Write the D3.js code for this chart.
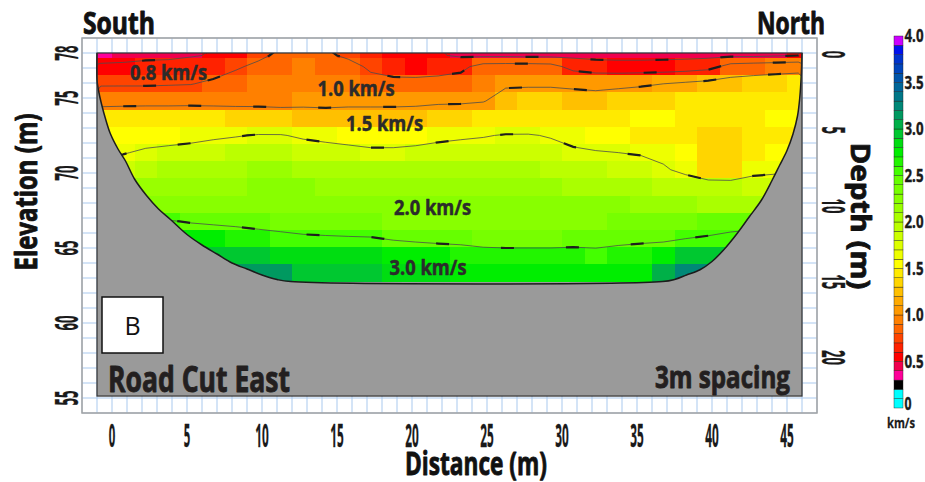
<!DOCTYPE html>
<html>
<head>
<meta charset="utf-8">
<script src="https://cdn.jsdelivr.net/npm/d3@7"></script>
<style>
  html, body { margin: 0; padding: 0; background: #ffffff; }
  svg { display: block; }
</style>
</head>
<body>
<svg id="chart" width="925" height="482"></svg>
<script>
// ---------------------------------------------------------------
// Seismic refraction tomogram, Road Cut East (profile B)
// Velocity model in km/s: 32 columns of 1.5 m, 14 layers (top -> bottom)
// ---------------------------------------------------------------
const layer00 = [0.38,0.40,0.42,0.44,0.48,0.52,0.58,0.70,0.80,0.82,0.80,0.70,0.62,0.58,0.55,0.52,0.47,0.46,0.46,0.45,0.45,0.45,0.44,0.44,0.44,0.45,0.45,0.45,0.46,0.46,0.48,0.50];
const layer01 = [0.55,0.56,0.60,0.60,0.62,0.62,0.72,0.80,0.88,0.90,0.88,0.85,0.70,0.60,0.58,0.62,0.68,0.85,0.86,0.86,0.84,0.66,0.60,0.58,0.58,0.58,0.60,0.65,0.85,0.88,0.90,0.92];
const layer02 = [0.72,0.72,0.72,0.73,0.74,0.80,0.86,0.90,0.92,0.94,0.94,0.90,0.85,0.85,0.85,0.86,0.88,0.95,1.05,1.05,1.05,1.02,1.00,1.02,1.05,1.10,1.15,1.20,1.25,1.30,1.35,1.40];
const layer03 = [0.95,0.96,0.96,0.96,0.97,0.97,0.97,0.98,0.98,1.00,1.00,1.02,1.02,1.02,1.02,1.05,1.05,1.08,1.25,1.30,1.30,1.28,1.25,1.30,1.35,1.38,1.40,1.42,1.42,1.42,1.45,1.45];
const layer04 = [1.40,1.42,1.45,1.45,1.45,1.42,1.38,1.35,1.30,1.28,1.25,1.25,1.25,1.25,1.28,1.30,1.35,1.40,1.42,1.45,1.45,1.45,1.45,1.48,1.50,1.50,1.48,1.45,1.45,1.48,1.50,1.50];
const layer05 = [1.55,1.55,1.55,1.55,1.60,1.65,1.68,1.72,1.72,1.65,1.60,1.55,1.50,1.50,1.55,1.62,1.65,1.68,1.72,1.72,1.68,1.60,1.55,1.50,1.45,1.42,1.40,1.35,1.35,1.40,1.42,1.45];
const layer06 = [1.65,1.68,1.75,1.80,1.82,1.85,1.90,1.92,1.92,1.88,1.85,1.82,1.78,1.78,1.80,1.82,1.85,1.85,1.85,1.82,1.80,1.75,1.72,1.70,1.68,1.60,1.50,1.35,1.35,1.45,1.50,1.55];
const layer07 = [1.85,1.88,1.95,2.00,2.05,2.05,2.08,2.10,2.10,2.08,2.05,2.02,2.00,2.00,2.00,2.02,2.05,2.05,2.05,2.00,1.98,1.95,1.90,1.85,1.80,1.75,1.60,1.38,1.38,1.60,1.65,1.70];
const layer08 = [2.10,2.12,2.15,2.15,2.15,2.18,2.18,2.20,2.20,2.20,2.18,2.15,2.15,2.15,2.15,2.15,2.18,2.18,2.18,2.15,2.12,2.08,2.05,2.02,2.00,1.98,1.95,1.92,1.90,1.88,1.85,1.85];
const layer09 = [2.20,2.22,2.22,2.25,2.25,2.25,2.25,2.25,2.25,2.25,2.25,2.22,2.22,2.22,2.22,2.22,2.25,2.25,2.25,2.25,2.22,2.20,2.20,2.20,2.18,2.15,2.10,2.05,2.05,2.05,2.05,2.05];
const layer10 = [2.30,2.35,2.40,2.52,2.48,2.45,2.42,2.40,2.38,2.35,2.32,2.30,2.30,2.28,2.28,2.28,2.28,2.28,2.28,2.28,2.28,2.28,2.28,2.30,2.32,2.35,2.38,2.40,2.42,2.42,2.40,2.40];
const layer11 = [2.60,2.62,2.65,2.68,2.70,2.70,2.68,2.62,2.58,2.55,2.54,2.53,2.52,2.48,2.45,2.42,2.40,2.38,2.38,2.38,2.38,2.40,2.40,2.42,2.44,2.45,2.50,2.52,2.55,2.58,2.60,2.60];
const layer12 = [2.80,2.82,2.85,2.85,2.85,2.90,2.90,2.90,2.88,2.82,2.82,2.82,2.80,2.70,2.70,2.70,2.68,2.62,2.60,2.60,2.60,2.60,2.58,2.62,2.65,2.70,2.90,2.95,2.95,2.95,2.95,2.95];
const layer13 = [3.00,3.00,3.00,3.00,3.05,3.10,3.12,3.12,3.12,2.95,2.92,2.90,2.90,2.85,2.82,2.80,2.78,2.75,2.75,2.75,2.75,2.75,2.75,2.75,2.78,3.05,3.25,3.25,3.20,3.20,3.20,3.20];
const velocityLayers = [layer00, layer01, layer02, layer03, layer04, layer05, layer06, layer07,
                        layer08, layer09, layer10, layer11, layer12, layer13];

// Layer boundaries, depth below the 78 m surface (m)
const layerDepthEdges = [0, 0.33, 1.48, 2.63, 3.77, 4.92, 6.07, 7.21, 8.36, 9.51, 10.65, 11.80, 12.95, 14.09, 15.24];
// Column boundaries start at -1.5 m, every 1.5 m
const columnStart = -1.5;
const columnWidth = 1.5;

// Ray-coverage outline (distance m, elevation m)
const coverDistance  = [-1, -1, -0.9, -0.7, -0.4, -0.1, 0.4, 0.9, 1.5, 2.3, 3.1, 3.9, 5.0, 6.0, 7.0, 8.0, 9.0, 10.0, 11.0, 11.9,
                        36.7, 37.5, 38.3, 39.2, 40.0, 40.8, 41.7, 42.5, 43.3, 44.0, 44.5, 45.0, 45.4, 45.7, 45.85, 45.95, 46];
const coverElevation = [78, 76.2, 75.5, 74.6, 73.5, 72.6, 71.6, 70.8, 69.6, 68.5, 67.6, 66.9, 65.9, 65.2, 64.6, 64.0, 63.6, 63.2, 62.9, 62.76,
                        62.76, 62.9, 63.2, 63.55, 64.1, 64.9, 66.0, 67.1, 68.2, 69.5, 70.5, 71.5, 72.6, 73.8, 75.0, 76.5, 78];

// Velocity contour levels (km/s)
const contourLevels = [0.5, 0.75, 1.1, 1.7, 2.5];

// Layer annotations
const layerLabels = ["0.8 km/s", "1.0 km/s", "1.5 km/s", "2.0 km/s", "3.0 km/s"];

// Axes
const distanceTicks  = [0, 5, 10, 15, 20, 25, 30, 35, 40, 45];
const elevationTicks = [78, 75, 70, 65, 60, 55];
const depthTicks     = [0, 5, 10, 15, 20];

// Colour scale: one colour per 0.1 km/s from 0 to 4.0
const velocityColors = [
  "#00ffff", "#00ffff", "#000000", "#ff0099", "#f0004e",
  "#ff0000", "#ff2200", "#ff4400", "#ff6600", "#ff8000",
  "#ff9900", "#ffaa00", "#ffc000", "#ffd500", "#ffea00",
  "#ffff00", "#eeff00", "#ddff00", "#ccff00", "#bbff00",
  "#aaff00", "#99ff00", "#88ff00", "#77ff00", "#66ff00",
  "#44ff00", "#22f500", "#00ee00", "#00dd11", "#00c830",
  "#00b048", "#009960", "#008877", "#007788", "#006699",
  "#0055aa", "#0044bb", "#0033cc", "#0011ee", "#cc00ff"
];
const colorbarTicks  = [0, 0.5, 1.0, 1.5, 2.0, 2.5, 3.0, 3.5, 4.0];
const colorbarLabels = ["0", "0.5", "1.0", "1.5", "2.0", "2.5", "3.0", "3.5", "4.0"];

// ---------------------------------------------------------------
const FONT = "'Open Sans', 'Liberation Sans', 'DejaVu Sans', sans-serif";
const svg = d3.select("#chart");

const x = d3.scaleLinear().domain([-1, 46]).range([97, 802]);
const y = d3.scaleLinear().domain([78, 55]).range([53, 398]);
const depth = d3.scaleLinear().domain([0, 20]).range([54.5, 357.5]);
const cb = d3.scaleLinear().domain([0, 4]).range([408, 36]);
const color = d3.scaleThreshold()
  .domain(d3.range(1, 40).map(i => i / 10))
  .range(velocityColors);

const surface = 78;
const panelBottom = 55.13;

// condensed bold text helper (textLength squeezes the glyphs, a thin
// outline of the same colour gives the heavy condensed look)
function label(parent, str, opts) {
  const fill = opts.fill || "#1a1a1a";
  const t = parent.append("text")
    .text(str)
    .attr("font-family", opts.family || FONT)
    .attr("font-weight", opts.weight || 700)
    .attr("font-size", opts.size)
    .attr("fill", fill)
    .attr("text-anchor", opts.anchor || "start");
  if (opts.heavy) t.attr("stroke", fill).attr("stroke-width", opts.heavy).attr("stroke-linejoin", "round");
  if (opts.length) t.attr("textLength", opts.length).attr("lengthAdjust", "spacingAndGlyphs");
  if (opts.transform) t.attr("transform", opts.transform);
  else t.attr("x", opts.x).attr("y", opts.y);
  return t;
}

// ---- background grid -------------------------------------------------
const grid = svg.append("g");
grid.append("rect")
  .attr("x", x(-2)).attr("y", y(79))
  .attr("width", x(47) - x(-2)).attr("height", y(54) - y(79))
  .attr("fill", "#ffffff");
grid.selectAll("line.v").data(d3.range(-2, 48)).join("line")
  .attr("x1", d => x(d)).attr("x2", d => x(d))
  .attr("y1", y(79)).attr("y2", y(54))
  .attr("stroke", "#a9c9ee").attr("stroke-width", 1);
grid.selectAll("line.h").data(d3.range(54, 80)).join("line")
  .attr("y1", d => y(d)).attr("y2", d => y(d))
  .attr("x1", x(-2)).attr("x2", x(47))
  .attr("stroke", "#a9c9ee").attr("stroke-width", 1);
grid.append("rect")
  .attr("x", x(-2)).attr("y", y(79))
  .attr("width", x(47) - x(-2)).attr("height", y(54) - y(79))
  .attr("fill", "none").attr("stroke", "#a3a3a3").attr("stroke-width", 1.5);

// ---- grey section panel ----------------------------------------------
svg.append("rect")
  .attr("x", x(-1)).attr("y", y(surface))
  .attr("width", x(46) - x(-1)).attr("height", y(panelBottom) - y(surface))
  .attr("fill", "#9a9a9a");

// ---- coverage clip ---------------------------------------------------
const coverPts = coverDistance.map((d, i) => [x(d), y(coverElevation[i])]);
const coverLine = d3.line().curve(d3.curveCatmullRom.alpha(0.5));
svg.append("defs").append("clipPath").attr("id", "cover")
  .append("path").attr("d", coverLine(coverPts) + "Z");

// ---- velocity cells --------------------------------------------------
const cells = [];
velocityLayers.forEach((row, j) => {
  row.forEach((v, i) => {
    cells.push({
      d0: columnStart + i * columnWidth,
      d1: columnStart + (i + 1) * columnWidth,
      e0: surface - layerDepthEdges[j],
      e1: surface - layerDepthEdges[j + 1],
      v
    });
  });
});
const cellG = svg.append("g").attr("clip-path", "url(#cover)");
cellG.selectAll("rect").data(cells).join("rect")
  .attr("x", c => x(c.d0)).attr("y", c => y(c.e0))
  .attr("width", c => x(c.d1) - x(c.d0) + 0.4)
  .attr("height", c => y(c.e1) - y(c.e0) + 0.4)
  .attr("fill", c => color(c.v))
  .attr("shape-rendering", "crispEdges");

// ---- contours --------------------------------------------------------
const nx = velocityLayers[0].length, ny = velocityLayers.length;
const layerCentres = d3.range(ny).map(j => surface - (layerDepthEdges[j] + layerDepthEdges[j + 1]) / 2);
const gridRow = d3.scaleLinear()
  .domain([0, ...d3.range(ny).map(j => j + 0.5), ny])
  .range([surface + 0.4, ...layerCentres, surface - layerDepthEdges[ny] - 0.4]);
const toPixels = d3.geoTransform({
  point(gx, gy) { this.stream.point(x(columnStart + gx * columnWidth), y(gridRow(gy))); }
});
const contourPath = d3.geoPath(toPixels);
const contours = d3.contours().size([nx, ny]).thresholds(contourLevels)(velocityLayers.flat());

const contourG = svg.append("g").attr("clip-path", "url(#cover)");
contourG.selectAll("path.thin").data(contours).join("path")
  .attr("class", "thin")
  .attr("d", contourPath)
  .attr("fill", "none").attr("stroke", "#4d4d4d").attr("stroke-width", 0.8);
contourG.selectAll("path.dash").data(contours).join("path")
  .attr("class", "dash")
  .attr("d", contourPath)
  .attr("fill", "none").attr("stroke", "#1e1e1e").attr("stroke-width", 2.2)
  .attr("stroke-dasharray", "13 52").attr("stroke-dashoffset", (d, i) => 20 + i * 9);

// ---- coverage outline & panel frame -----------------------------------
svg.append("path")
  .attr("d", coverLine(coverPts))
  .attr("fill", "none").attr("stroke", "#1c1c1c").attr("stroke-width", 1.5);
svg.append("rect")
  .attr("x", x(-1)).attr("y", y(surface))
  .attr("width", x(46) - x(-1)).attr("height", y(panelBottom) - y(surface))
  .attr("fill", "none").attr("stroke", "#333333").attr("stroke-width", 1.2);

// ---- layer annotations -----------------------------------------------
const annG = svg.append("g");
const annPos = [[1.2, 76.2], [13.7, 75.15], [15.6, 72.8], [18.8, 67.2], [18.5, 63.2]];
layerLabels.forEach((s, i) => {
  label(annG, s, { x: x(annPos[i][0]), y: y(annPos[i][1]), size: 21, length: 77, fill: "#2b2b2b", heavy: 0.5 });
});

// ---- axes --------------------------------------------------------------
const axG = svg.append("g");
distanceTicks.forEach(v => {
  const s = String(v);
  label(axG, s, { x: x(v), y: 447, size: 32, anchor: "middle", length: s.length * 7 - 0.5, heavy: 0.3 });
});
elevationTicks.forEach(v => {
  const s = String(v);
  label(axG, s, { transform: `translate(78,${y(v)}) rotate(-90)`, size: 32, anchor: "middle", length: 15, heavy: 0.3 });
});
depthTicks.forEach(v => {
  const s = String(v);
  label(axG, s, { transform: `translate(822,${depth(v)}) rotate(90)`, size: 32, anchor: "middle", length: s.length * 7.5, heavy: 0.3 });
});

label(axG, "Distance (m)", { x: 405, y: 475, size: 32, length: 142, heavy: 0.9, fill: "#111" });
label(axG, "Elevation (m)", { transform: "translate(37,192) rotate(-90)", size: 31, anchor: "middle", length: 157, heavy: 0.9, fill: "#111" });
label(axG, "Depth (m)", { transform: "translate(851,216) rotate(90)", size: 26, anchor: "middle", length: 147, heavy: 0.8, fill: "#111" });
label(axG, "South", { x: 83, y: 34, size: 30, length: 72, heavy: 0.9, fill: "#111" });
label(axG, "North", { x: 757, y: 34, size: 30, length: 68, heavy: 0.9, fill: "#111" });

// ---- panel captions ----------------------------------------------------
label(svg, "Road Cut East", { x: 108, y: 392, size: 35, length: 182, fill: "#231f20", heavy: 0.9 });
label(svg, "3m spacing", { x: 655, y: 388, size: 31, length: 135, fill: "#231f20", heavy: 0.9 });
svg.append("rect")
  .attr("x", 102).attr("y", 297).attr("width", 61).attr("height", 56)
  .attr("fill", "#ffffff").attr("stroke", "#111111").attr("stroke-width", 1.5);
label(svg, "B", { x: 132.5, y: 335, size: 25, weight: 400, anchor: "middle", fill: "#111111" });

// ---- colour bar --------------------------------------------------------
const cbG = svg.append("g");
cbG.selectAll("rect").data(velocityColors).join("rect")
  .attr("x", 894).attr("width", 9)
  .attr("y", (c, i) => cb((i + 1) / 10))
  .attr("height", (c, i) => cb(i / 10) - cb((i + 1) / 10))
  .attr("fill", c => c)
  .attr("stroke", "#1a1a1a").attr("stroke-width", 0.4);
colorbarTicks.forEach((v, i) => {
  const s = colorbarLabels[i];
  label(cbG, s, { x: 904.5, y: Math.min(cb(v), 404) + 6, size: 17, length: s.length === 1 ? 7 : 19, heavy: 0.4 });
});
label(cbG, "km/s", { x: 901, y: 428, size: 15, anchor: "middle", length: 28, heavy: 0.3 });
</script>
</body>
</html>
